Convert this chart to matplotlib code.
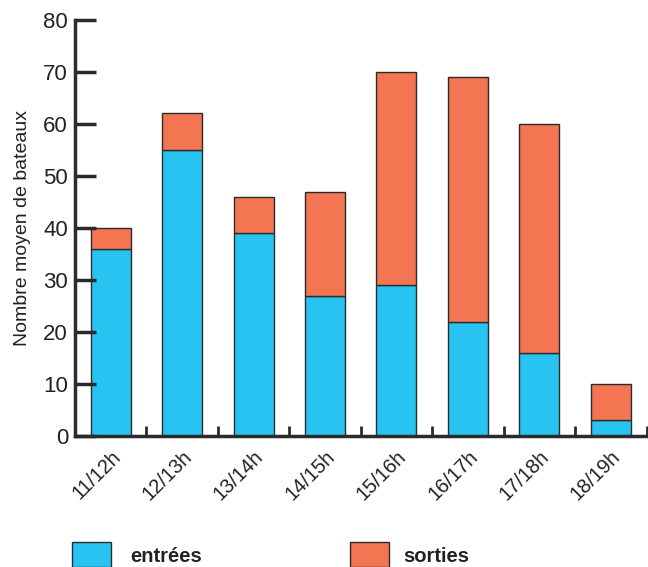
import matplotlib.pyplot as plt
import numpy as np
from matplotlib.patches import Rectangle
from matplotlib.transforms import ScaledTranslation

plt.rcParams['font.family'] = ['Liberation Sans', 'DejaVu Sans']

categories = ["11/12h", "12/13h", "13/14h", "14/15h", "15/16h", "16/17h", "17/18h", "18/19h"]
entrees = [36, 55, 39, 27, 29, 22, 16, 3]
sorties = [4, 7, 7, 20, 41, 47, 44, 7]

blue = "#27C4F2"
orange = "#F37552"
edge = "#2b2b2b"

fig = plt.figure(figsize=(6.48, 5.67), dpi=100)
ax = fig.add_axes([0.1157, 0.231, 0.882, 0.734])

x = np.arange(len(categories))
w = 0.56
ax.bar(x, entrees, w, color=blue, edgecolor=edge, linewidth=1)
ax.bar(x, sorties, w, bottom=entrees, color=orange, edgecolor=edge, linewidth=1)

ax.set_xlim(-0.5, len(categories) - 0.5)
ax.set_ylim(0, 80)
ax.set_yticks(range(0, 81, 10))
ax.set_xticks(x + 0.5)
ax.set_xticklabels([])
ax.set_xticks(x, minor=True)
ax.set_xticklabels(categories, minor=True, rotation=45, ha='right', va='top',
                   rotation_mode='anchor', fontsize=14.5, color="#222")
shift = ScaledTranslation(10 / 100, 0, fig.dpi_scale_trans)
for lbl in ax.get_xticklabels(minor=True):
    lbl.set_transform(lbl.get_transform() + shift)
ax.tick_params(axis='x', which='minor', length=0, pad=8)
ax.tick_params(axis='x', which='major', direction='in', length=7, width=2, color=edge)
ax.tick_params(axis='y', direction='in', length=15, width=2.5, color=edge,
               labelsize=16, labelcolor="#222", pad=5)

for s in ['top', 'right']:
    ax.spines[s].set_visible(False)
for s in ['left', 'bottom']:
    ax.spines[s].set_linewidth(2.5)
    ax.spines[s].set_color(edge)

ax.set_ylabel("Nombre moyen de bateaux", fontsize=14, color="#222", labelpad=9)

# legend
for (lx, tx, label, col) in [(72, 130, "entrées", blue), (350, 403, "sorties", orange)]:
    fig.add_artist(Rectangle((lx / 648, 0.0), 39 / 648, 25 / 567,
                             transform=fig.transFigure, facecolor=col,
                             edgecolor=edge, linewidth=1))
    fig.text(tx / 648, 11 / 567, label, fontsize=14.5, fontweight='bold',
             color="#222", va='center', ha='left')

fig.savefig("out.png", dpi=100)
